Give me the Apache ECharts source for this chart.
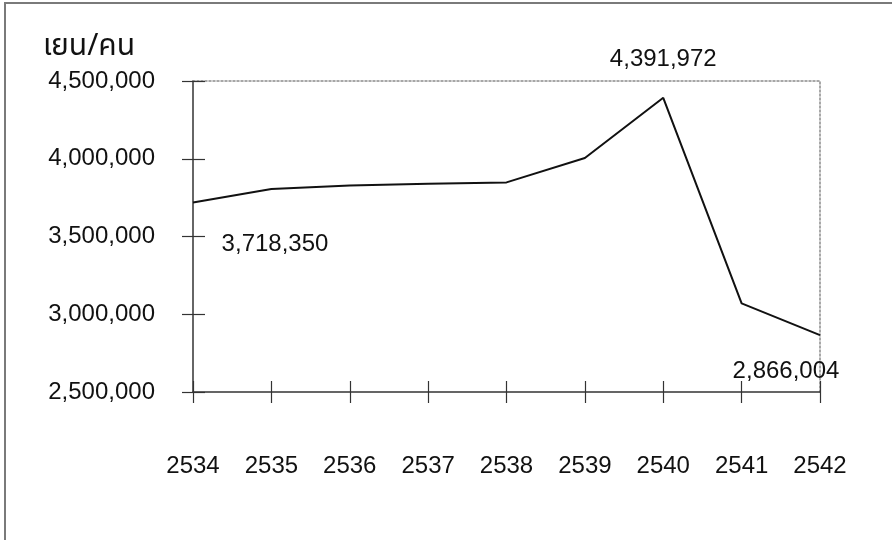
<!DOCTYPE html>
<html>
<head>
<meta charset="utf-8">
<script src="https://cdn.jsdelivr.net/npm/echarts@6/dist/echarts.min.js"></script>
<style>
  html, body { margin: 0; padding: 0; background: #fff; }
  #chart { width: 892px; height: 540px; }
</style>
</head>
<body>
<div id="chart"></div>
<script>
// Yearly income per person (yen), Buddhist-era years
const years = ['2534', '2535', '2536', '2537', '2538', '2539', '2540', '2541', '2542'];
const yenPerPerson = [3718350, 3805000, 3828000, 3840000, 3848000, 4005000, 4391972, 3070000, 2866004];
const unitLabel = 'เยน/คน';
const yMin = 2500000;
const yMax = 4500000;
const yStep = 500000;

// Which points carry a value label, and where it sits relative to the point
const labelOffsets = { 0: [82, 42], 6: [0, -38], 8: [-34, 36] };

const FONT = "'Liberation Sans', Arial, sans-serif";
const fmt = v => Number(v).toLocaleString('en-US');

const seriesData = yenPerPerson.map((v, i) => {
  const item = { value: v };
  if (labelOffsets[i]) {
    item.label = {
      show: true,
      position: 'inside',
      offset: labelOffsets[i],
      formatter: p => fmt(p.value),
      color: '#111',
      fontSize: 24,
      fontFamily: FONT
    };
  }
  return item;
});

const chart = echarts.init(document.getElementById('chart'), null, { renderer: 'canvas' });

const grid = { left: 193, right: 72, top: 81, bottom: 148, containLabel: false };

chart.setOption({
  animation: false,
  backgroundColor: '#fff',
  title: {
    text: unitLabel,
    left: 38,
    top: 29,
    textStyle: { fontSize: 30, fontWeight: 'normal', color: '#111', fontFamily: "'Noto Sans Thai', 'Loma', 'Garuda', 'Noto Sans', sans-serif" }
  },
  grid: grid,
  graphic: [
    {
      type: 'rect',
      shape: { x: 5, y: 3, width: 1000, height: 1000 },
      style: { fill: 'none', stroke: '#7a7a7a', lineWidth: 2 },
      silent: true
    }
  ],
  xAxis: [
    {
      type: 'category',
      data: years,
      boundaryGap: false,
      position: 'bottom',
      axisLine: { show: true, lineStyle: { color: '#333', width: 1.5 } },
      axisTick: { show: true, inside: false, length: 11, lineStyle: { color: '#333', width: 1.2 } },
      axisLabel: { margin: 62, fontSize: 24, color: '#111', fontFamily: FONT },
      splitLine: { show: false }
    },
    {
      type: 'category',
      data: years,
      boundaryGap: false,
      position: 'bottom',
      axisLine: { show: false },
      axisTick: { show: true, inside: true, length: 11, lineStyle: { color: '#333', width: 1.2 } },
      axisLabel: { show: false },
      splitLine: { show: false }
    },
    {
      type: 'category',
      data: years,
      boundaryGap: false,
      position: 'top',
      axisLine: { show: true, lineStyle: { color: '#8a8a8a', width: 1.5, type: [2, 2] } },
      axisTick: { show: false },
      axisLabel: { show: false },
      splitLine: { show: false }
    }
  ],
  yAxis: [
    {
      type: 'value',
      min: yMin,
      max: yMax,
      interval: yStep,
      position: 'left',
      axisLine: { show: true, lineStyle: { color: '#333', width: 1.5 } },
      axisTick: { show: true, inside: false, length: 11, lineStyle: { color: '#333', width: 1.2 } },
      axisLabel: { margin: 38, fontSize: 24, color: '#111', fontFamily: FONT, formatter: v => fmt(v) },
      splitLine: { show: false }
    },
    {
      type: 'value',
      min: yMin,
      max: yMax,
      interval: yStep,
      position: 'left',
      axisLine: { show: false },
      axisTick: { show: true, inside: true, length: 12, lineStyle: { color: '#333', width: 1.2 } },
      axisLabel: { show: false },
      splitLine: { show: false }
    },
    {
      type: 'value',
      min: yMin,
      max: yMax,
      interval: yStep,
      position: 'right',
      axisLine: { show: true, lineStyle: { color: '#8a8a8a', width: 1.5, type: [2, 2] } },
      axisTick: { show: false },
      axisLabel: { show: false },
      splitLine: { show: false }
    }
  ],
  series: [
    {
      type: 'line',
      xAxisIndex: 0,
      yAxisIndex: 0,
      data: seriesData,
      showSymbol: true,
      symbol: 'circle',
      symbolSize: 2,
      itemStyle: { color: 'rgba(0,0,0,0)' },
      lineStyle: { color: '#111', width: 2 },
      z: 5
    }
  ]
});
</script>
</body>
</html>
